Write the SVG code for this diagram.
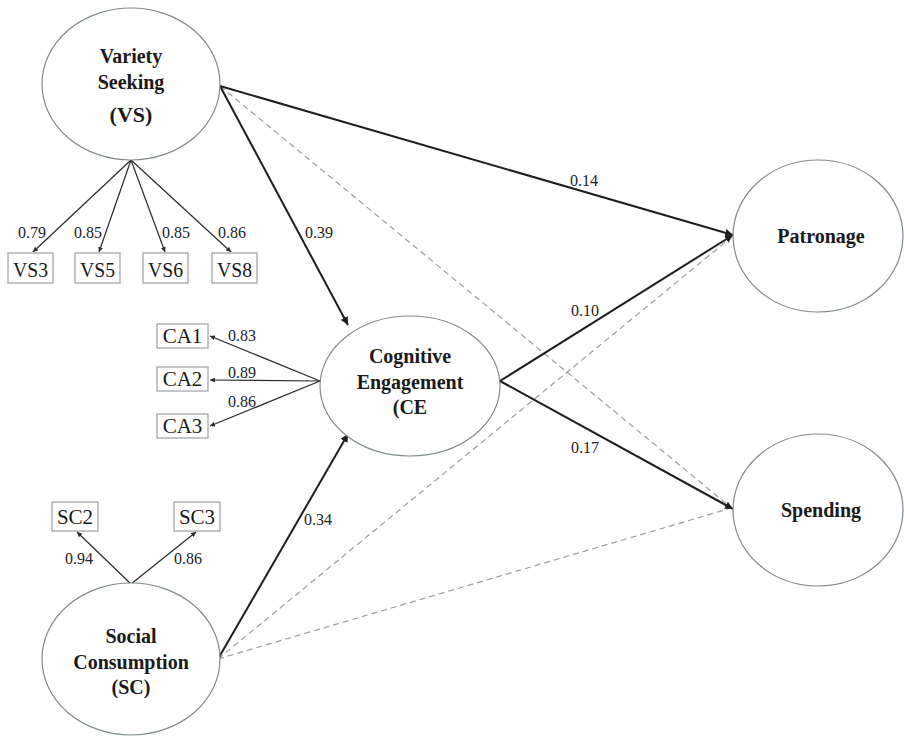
<svg xmlns="http://www.w3.org/2000/svg" width="904" height="736" viewBox="0 0 904 736">
<style>
.lat{fill:#fff;stroke:#7f8a8f;stroke-width:1.2}
.box{fill:#fff;stroke:#9aa0a3;stroke-width:1.2}
.lt{font-family:"Liberation Serif","Times New Roman",serif;font-weight:bold;font-size:20px;fill:#1a1a1a;text-anchor:middle}
.bt{font-family:"Liberation Serif","Times New Roman",serif;font-size:21px;fill:#1a1a1a;text-anchor:middle}
.nt{font-family:"Liberation Serif","Times New Roman",serif;font-size:16px;fill:#222;text-anchor:middle}
.path{stroke:#1e1e1e;stroke-width:2;fill:none;marker-end:url(#big)}
.load{stroke:#2a2a2a;stroke-width:1.2;fill:none;marker-end:url(#small)}
.dash{stroke:#9a9ea2;stroke-width:1.2;fill:none;stroke-dasharray:6 4}
</style>
<defs>
<marker id="big" viewBox="0 0 10 10" refX="10" refY="5" markerWidth="8" markerHeight="8" markerUnits="userSpaceOnUse" orient="auto"><path d="M0,0 L10,5 L0,10 Z" fill="#1e1e1e"/></marker>
<marker id="small" viewBox="0 0 10 10" refX="10" refY="5" markerWidth="5" markerHeight="5" markerUnits="userSpaceOnUse" orient="auto"><path d="M0,0 L10,5 L0,10 Z" fill="#2a2a2a"/></marker>
</defs>
<rect width="904" height="736" fill="#fff"/>
<g id="connectors">
<line class="dash" x1="220" y1="86" x2="728" y2="505"/>
<line class="dash" x1="218" y1="659" x2="728" y2="240"/>
<line class="dash" x1="218" y1="659" x2="728" y2="509"/>
<line class="path" x1="220" y1="86" x2="733" y2="235"/>
<line class="path" x1="220" y1="86" x2="348" y2="325"/>
<line class="path" x1="500" y1="381" x2="733" y2="235"/>
<line class="path" x1="500" y1="381" x2="733" y2="509"/>
<line class="path" x1="218" y1="659" x2="348" y2="434"/>
<line class="load" x1="131" y1="160" x2="33" y2="252"/>
<line class="load" x1="131" y1="160" x2="99" y2="252"/>
<line class="load" x1="131" y1="160" x2="165" y2="252"/>
<line class="load" x1="131" y1="160" x2="231" y2="252"/>
<line class="load" x1="320" y1="381" x2="210" y2="336"/>
<line class="load" x1="320" y1="381" x2="210" y2="380"/>
<line class="load" x1="320" y1="381" x2="210" y2="426"/>
<line class="load" x1="131" y1="584" x2="77" y2="532"/>
<line class="load" x1="131" y1="584" x2="196" y2="532"/>
<text class="nt" x="584" y="186">0.14</text>
<text class="nt" x="319" y="238">0.39</text>
<text class="nt" x="585" y="316">0.10</text>
<text class="nt" x="585" y="453">0.17</text>
<text class="nt" x="318" y="525">0.34</text>
<text class="nt" x="32" y="238">0.79</text>
<text class="nt" x="88" y="238">0.85</text>
<text class="nt" x="176" y="238">0.85</text>
<text class="nt" x="232" y="238">0.86</text>
<text class="nt" x="242" y="341">0.83</text>
<text class="nt" x="242" y="378">0.89</text>
<text class="nt" x="242" y="407">0.86</text>
<text class="nt" x="79" y="564">0.94</text>
<text class="nt" x="188" y="564">0.86</text>
</g>
<g id="VS">
<ellipse class="lat" cx="131" cy="84" rx="89" ry="76"/>
<text class="lt" x="131" y="63">Variety</text>
<text class="lt" x="131" y="89">Seeking</text>
<text class="lt" x="131" y="122" style="font-size:22px">(VS)</text>
</g>
<g id="VS3"><rect class="box" x="8" y="253" width="45" height="30"/><text class="bt" x="30.5" y="277" textLength="35" lengthAdjust="spacingAndGlyphs">VS3</text></g>
<g id="VS5"><rect class="box" x="75" y="253" width="45" height="30"/><text class="bt" x="97.5" y="277" textLength="35" lengthAdjust="spacingAndGlyphs">VS5</text></g>
<g id="VS6"><rect class="box" x="143" y="253" width="45" height="30"/><text class="bt" x="165.5" y="277" textLength="35" lengthAdjust="spacingAndGlyphs">VS6</text></g>
<g id="VS8"><rect class="box" x="212" y="253" width="45" height="30"/><text class="bt" x="234.5" y="277" textLength="35" lengthAdjust="spacingAndGlyphs">VS8</text></g>
<g id="CE">
<ellipse class="lat" cx="410" cy="386" rx="90" ry="70"/>
<text class="lt" x="410" y="363">Cognitive</text>
<text class="lt" x="410" y="389">Engagement</text>
<text class="lt" x="410" y="414">(CE</text>
</g>
<g id="CA1"><rect class="box" x="157" y="324" width="51" height="24"/><text class="bt" x="182.5" y="343">CA1</text></g>
<g id="CA2"><rect class="box" x="157" y="367" width="51" height="24"/><text class="bt" x="182.5" y="386">CA2</text></g>
<g id="CA3"><rect class="box" x="157" y="414" width="51" height="24"/><text class="bt" x="182.5" y="433">CA3</text></g>
<g id="SC">
<ellipse class="lat" cx="131" cy="659" rx="89" ry="76"/>
<text class="lt" x="131" y="643">Social</text>
<text class="lt" x="131" y="669">Consumption</text>
<text class="lt" x="131" y="694">(SC)</text>
</g>
<g id="SC2"><rect class="box" x="52" y="502" width="46" height="29"/><text class="bt" x="75" y="524">SC2</text></g>
<g id="SC3"><rect class="box" x="174" y="502" width="46" height="29"/><text class="bt" x="197" y="524">SC3</text></g>
<g id="Patronage">
<ellipse class="lat" cx="818" cy="236" rx="85" ry="76"/>
<text class="lt" x="821" y="243">Patronage</text>
</g>
<g id="Spending">
<ellipse class="lat" cx="818" cy="510" rx="85" ry="76"/>
<text class="lt" x="821" y="517">Spending</text>
</g>
</svg>
